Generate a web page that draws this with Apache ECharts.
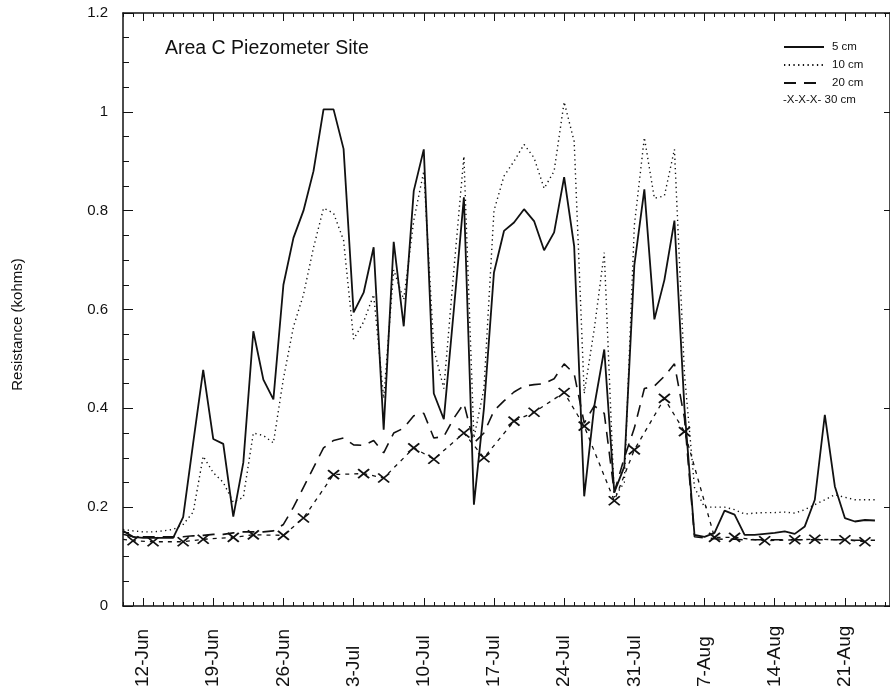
<!DOCTYPE html>
<html>
<head>
<meta charset="utf-8">
<script src="https://cdn.jsdelivr.net/npm/echarts@6/dist/echarts.min.js"></script>
<style>
  html, body { margin: 0; padding: 0; background: #fff; }
  #chart { width: 890px; height: 692px; }
</style>
</head>
<body>
<div id="chart"></div>
<script>
// Daily readings start on 10-Jun (day 0); the x axis counts days from that date.
const tickDays   = [2, 9, 16, 23, 30, 37, 44, 51, 58, 65, 72];
const tickLabels = ['12-Jun', '19-Jun', '26-Jun', '3-Jul', '10-Jul', '17-Jul', '24-Jul', '31-Jul', '7-Aug', '14-Aug', '21-Aug'];

// Resistance (kohms), one value per day from day 0
const cm5 = [0.152, 0.14, 0.138, 0.138, 0.138, 0.138, 0.18, 0.33, 0.478, 0.338,
  0.328, 0.181, 0.29, 0.556, 0.458, 0.418, 0.65, 0.745, 0.80, 0.88,
  1.005, 1.005, 0.925, 0.594, 0.634, 0.726, 0.357, 0.737, 0.566, 0.84,
  0.924, 0.43, 0.378, 0.6, 0.827, 0.205, 0.40, 0.675, 0.759, 0.776,
  0.803, 0.779, 0.72, 0.756, 0.868, 0.728, 0.222, 0.404, 0.519, 0.23,
  0.282, 0.69, 0.843, 0.58, 0.66, 0.78, 0.40, 0.144, 0.14, 0.148,
  0.193, 0.185, 0.144, 0.144, 0.146, 0.148, 0.151, 0.146, 0.161, 0.215,
  0.387, 0.242, 0.178, 0.171, 0.174, 0.173];

const cm10 = [0.155, 0.152, 0.15, 0.15, 0.152, 0.155, 0.165, 0.19, 0.303, 0.27,
  0.25, 0.21, 0.22, 0.35, 0.345, 0.33, 0.46, 0.565, 0.63, 0.725,
  0.805, 0.795, 0.74, 0.54, 0.575, 0.63, 0.42, 0.68, 0.62, 0.78,
  0.88, 0.52, 0.44, 0.68, 0.91, 0.34, 0.44, 0.80, 0.87, 0.90,
  0.934, 0.907, 0.845, 0.88, 1.02, 0.94, 0.43, 0.56, 0.715, 0.22,
  0.25, 0.77, 0.948, 0.825, 0.83, 0.924, 0.47, 0.24, 0.2, 0.2,
  0.2, 0.195, 0.186, 0.188, 0.189, 0.189, 0.19, 0.188, 0.195, 0.205,
  0.215, 0.225, 0.22, 0.215, 0.215, 0.215];

const cm20 = [0.145, 0.14, 0.14, 0.14, 0.14, 0.14, 0.14, 0.142, 0.143, 0.145,
  0.145, 0.148, 0.15, 0.15, 0.15, 0.152, 0.165, 0.2, 0.24, 0.28,
  0.32, 0.335, 0.34, 0.326, 0.325, 0.335, 0.31, 0.35, 0.36, 0.385,
  0.39, 0.34, 0.343, 0.38, 0.41, 0.33, 0.35, 0.395, 0.415, 0.433,
  0.445, 0.448, 0.45, 0.46, 0.49, 0.47, 0.37, 0.405, 0.39, 0.23,
  0.3, 0.36, 0.44, 0.445, 0.465, 0.49, 0.38, 0.14, 0.138, 0.136,
  0.135, 0.135, 0.134, 0.134, 0.134, 0.134, 0.134, 0.134, 0.134, 0.134,
  0.134, 0.134, 0.134, 0.133, 0.133, 0.133];

// The 30 cm sensor was read on fewer days
const cm30Days = [0, 1, 3, 6, 8, 11, 13, 16, 18, 21, 24, 26, 29, 31, 34, 36,
  39, 41, 44, 46, 49, 51, 54, 56, 59, 61, 64, 67, 69, 72, 74];
const cm30 = [0.135, 0.132, 0.13, 0.13, 0.135, 0.139, 0.144, 0.143, 0.178, 0.266,
  0.268, 0.259, 0.32, 0.297, 0.35, 0.30, 0.374, 0.392, 0.432, 0.364,
  0.213, 0.316, 0.42, 0.353, 0.139, 0.139, 0.132, 0.134, 0.135, 0.134, 0.13];

const FONT = '"Liberation Sans", Arial, Helvetica, sans-serif';
const INK = '#111';
const X_MIN = 0, X_MAX = 76.5;

const daily = arr => arr.map((v, i) => [i, v]);
const cm30Data = cm30Days.map((d, i) => (i === 0 ? { value: [d, cm30[i]], symbol: 'none' } : [d, cm30[i]]));

const tickLine = { color: INK, width: 1 };
const baseX = {
  type: 'value', min: X_MIN, max: X_MAX,
  splitLine: { show: false },
  axisLabel: { show: false },
  axisLine: { show: false, onZero: false }
};

const chart = echarts.init(document.getElementById('chart'), null, { renderer: 'canvas' });

chart.setOption({
  animation: false,
  backgroundColor: '#fff',
  title: {
    text: 'Area C Piezometer Site',
    left: 160, top: 34,
    textStyle: { fontFamily: FONT, fontSize: 19.5, fontWeight: 'normal', color: INK }
  },
  legend: [
    {
      data: ['5 cm', '10 cm', '20 cm'],
      orient: 'vertical', left: 783, top: 41, padding: 0,
      itemWidth: 40, itemHeight: 12, itemGap: 6,
      selectedMode: false,
      itemStyle: { opacity: 0 },
      textStyle: { fontFamily: FONT, fontSize: 11.5, color: INK, padding: [0, 0, 0, 3] }
    },
    {
      data: [{ name: '30 cm', icon: 'none' }],
      left: 777, top: 94, padding: 0,
      itemWidth: 1, itemHeight: 12,
      selectedMode: false,
      formatter: () => '-X-X-X- 30 cm',
      textStyle: { fontFamily: FONT, fontSize: 11.5, color: INK }
    }
  ],
  grid: { left: 123, right: -2, top: 13, bottom: 86, containLabel: false },
  xAxis: [
    // bottom: daily ticks and the axis line
    Object.assign({}, baseX, {
      position: 'bottom', interval: 1,
      axisLine: { show: true, onZero: false, lineStyle: { color: INK, width: 1.5 } },
      axisTick: { show: true, inside: true, length: 4, lineStyle: tickLine }
    }),
    // bottom: weekly ticks and date labels
    Object.assign({}, baseX, {
      position: 'bottom',
      axisTick: { show: true, inside: true, length: 8, customValues: tickDays, lineStyle: tickLine },
      axisLabel: {
        show: true, customValues: tickDays,
        formatter: v => tickLabels[tickDays.indexOf(v)],
        rotate: 90, align: 'left', margin: 81,
        fontFamily: FONT, fontSize: 19, color: INK
      }
    }),
    // top frame: daily ticks
    Object.assign({}, baseX, {
      position: 'top', interval: 1,
      axisLine: { show: true, onZero: false, lineStyle: { color: INK, width: 1.5 } },
      axisTick: { show: true, inside: true, length: 4, lineStyle: tickLine }
    }),
    // top frame: weekly ticks
    Object.assign({}, baseX, {
      position: 'top',
      axisTick: { show: true, inside: true, length: 8, customValues: tickDays, lineStyle: tickLine }
    })
  ],
  yAxis: [
    {
      type: 'value', position: 'left', min: 0, max: 1.2, interval: 0.2,
      name: 'Resistance (kohms)', nameLocation: 'middle', nameGap: 98,
      nameTextStyle: { fontFamily: FONT, fontSize: 15, color: INK, padding: [0, 30, 0, 0] },
      axisLine: { show: true, onZero: false, lineStyle: { color: INK, width: 1.5 } },
      axisTick: { show: true, inside: true, length: 10, lineStyle: tickLine },
      minorTick: { show: true, splitNumber: 4, length: 6, lineStyle: tickLine },
      axisLabel: { margin: 15, fontFamily: FONT, fontSize: 15, color: INK },
      splitLine: { show: false }
    },
    {
      type: 'value', position: 'right', min: 0, max: 1.2, interval: 0.2,
      axisLine: { show: true, onZero: false, lineStyle: { color: INK, width: 1.5 } },
      axisTick: { show: true, inside: true, length: 6, lineStyle: tickLine },
      axisLabel: { show: false },
      splitLine: { show: false }
    }
  ],
  series: [
    {
      name: '5 cm', type: 'line', data: daily(cm5),
      symbol: 'none', color: INK,
      lineStyle: { color: INK, width: 1.8, type: 'solid' }
    },
    {
      name: '10 cm', type: 'line', data: daily(cm10),
      symbol: 'none', color: INK,
      lineStyle: { color: INK, width: 1.4, type: [1.3, 3.4] }
    },
    {
      name: '20 cm', type: 'line', data: daily(cm20),
      symbol: 'none', color: INK,
      lineStyle: { color: INK, width: 1.6, type: [12, 8] }
    },
    {
      name: '30 cm', type: 'line', data: cm30Data,
      symbol: 'path://M0,0L10,8M10,0L0,8', symbolSize: [11, 9],
      showAllSymbol: true,
      itemStyle: { color: 'rgba(0,0,0,0)', borderColor: INK, borderWidth: 1.8 },
      lineStyle: { color: INK, width: 1.3, type: [4, 5] }
    }
  ]
});
</script>
</body>
</html>
